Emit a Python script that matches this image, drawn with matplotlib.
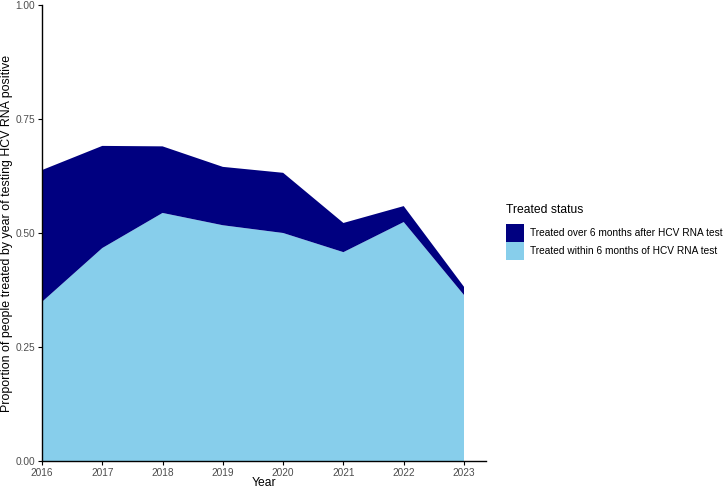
import matplotlib
matplotlib.use('Agg')
import matplotlib.pyplot as plt
from matplotlib.patches import Patch

plt.rcParams['font.family'] = ['Liberation Sans', 'DejaVu Sans']

# data
years = [2016, 2017, 2018, 2019, 2020, 2021, 2022, 2023]
within_6m = [0.349, 0.467, 0.544, 0.517, 0.500, 0.458, 0.524, 0.364]
over_6m_total = [0.638, 0.691, 0.690, 0.645, 0.632, 0.522, 0.559, 0.382]
over_6m = [t - w for t, w in zip(over_6m_total, within_6m)]

labels = ['Treated over 6 months after HCV RNA test',
          'Treated within 6 months of HCV RNA test']
colors = ['#000080', '#87CEEB']

W, H = 725, 490
fig = plt.figure(figsize=(7.25, 4.9), dpi=100)
ax = fig.add_axes([42 / W, 1 - 461 / H, (486 - 42) / W, (461 - 5) / H])

ax.stackplot(years, within_6m, over_6m, colors=[colors[1], colors[0]], linewidth=0)

ax.set_xlim(2016, 2023.365)
ax.set_ylim(0, 1)
ax.set_xticks(years)
ax.set_yticks([0, 0.25, 0.5, 0.75, 1.0])
ax.set_yticklabels(['0.00', '0.25', '0.50', '0.75', '1.00'])

for s in ['top', 'right']:
    ax.spines[s].set_visible(False)
for s in ['left', 'bottom']:
    ax.spines[s].set_linewidth(1.0)
    ax.spines[s].set_color('black')
ax.tick_params(axis='both', length=3, width=0.8, color='black',
               labelsize=7.3, labelcolor='#4D4D4D', pad=2)

ax.set_xlabel('Year', fontsize=8.7, va='center')
ax.xaxis.set_label_coords(0.5, (461 - 483) / 456)
ax.set_ylabel('Proportion of people treated by year of testing HCV RNA positive',
              fontsize=8.9, va='center')
ax.yaxis.set_label_coords((7 - 42) / 444, 0.5)

handles = [Patch(facecolor=c, edgecolor='none') for c in colors]
leg = fig.legend(handles, labels, title='Treated status', loc='upper left',
                 bbox_to_anchor=(506 / W, 1 - 204 / H), frameon=False,
                 borderpad=0, borderaxespad=0,
                 fontsize=7.3, title_fontsize=8.7, handlelength=1.75,
                 handleheight=2.3, handletextpad=0.6, labelspacing=0.0)
leg._legend_box.align = 'left'
leg._legend_box.sep = 6

fig.savefig('out.png', dpi=100)
